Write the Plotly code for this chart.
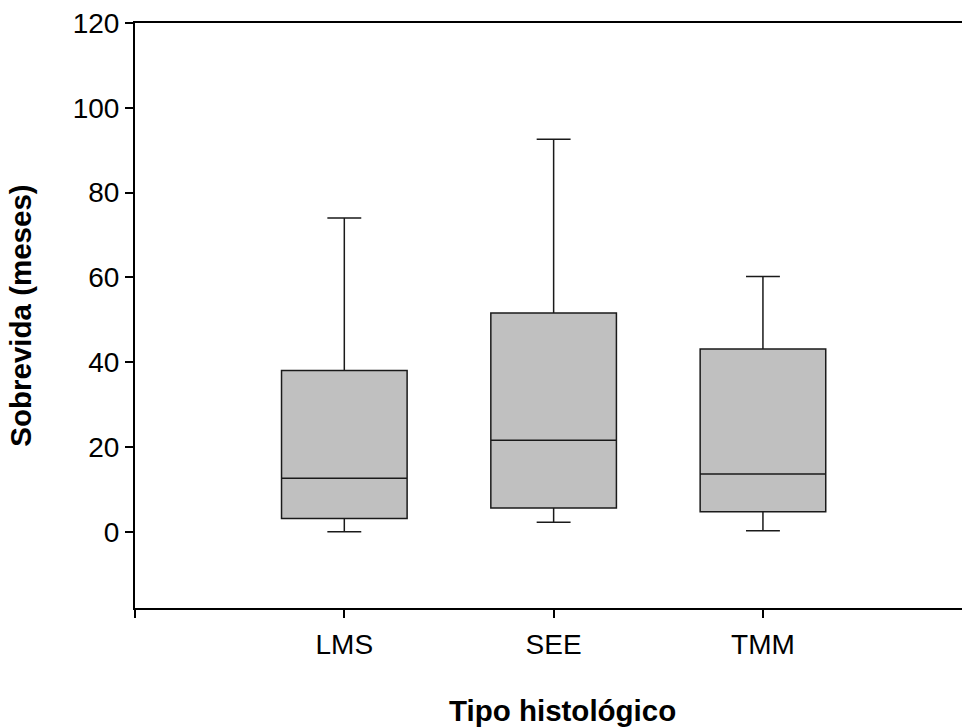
import plotly.graph_objects as go

# Survival (months) by histological type: five-number summaries
categories = ["LMS", "SEE", "TMM"]
positions = [1, 2, 3]
lower_whisker = [0.0, 2.2, 0.2]
q1 = [3.1, 5.6, 4.7]
median = [12.6, 21.6, 13.6]
q3 = [38.0, 51.6, 43.1]
upper_whisker = [74.0, 92.6, 60.2]

y_ticks = [0, 20, 40, 60, 80, 100, 120]

font_family = "Liberation Sans, Arial, sans-serif"

fig = go.Figure()
fig.add_trace(go.Box(
    x=positions,
    lowerfence=lower_whisker,
    q1=q1,
    median=median,
    q3=q3,
    upperfence=upper_whisker,
    width=0.6,
    whiskerwidth=0.27,
    fillcolor="#c0c0c0",
    line=dict(color="#1a1a1a", width=1.5),
    boxpoints=False,
    showlegend=False,
    hoverinfo="skip",
))

# x-axis title placed as a paper-anchored annotation below the tick labels
fig.add_annotation(
    text="<b>Tipo histológico</b>",
    xref="paper", yref="paper",
    x=0.5175, y=0,
    xanchor="center", yanchor="top",
    yshift=-84,
    showarrow=False,
    font=dict(size=29.5, family=font_family, color="black"),
)

fig.update_layout(
    width=962,
    height=727,
    margin=dict(l=135, r=0, t=23, b=119),
    paper_bgcolor="white",
    plot_bgcolor="white",
    font=dict(family=font_family, size=28, color="black"),
    xaxis=dict(
        range=[0, 3.951],
        tickmode="array",
        tickvals=[0] + positions,
        ticktext=[""] + categories,
        ticks="outside",
        ticklen=8,
        tickwidth=1.5,
        tickcolor="black",
        ticklabelstandoff=2,
        showline=True,
        linecolor="black",
        linewidth=2,
        mirror=True,
        showgrid=False,
        zeroline=False,
    ),
    yaxis=dict(
        range=[-18, 120],
        tickmode="array",
        tickvals=y_ticks,
        ticktext=[str(v) for v in y_ticks],
        ticks="outside",
        ticklen=8,
        tickwidth=1.5,
        tickcolor="black",
        showline=True,
        linecolor="black",
        linewidth=2,
        showgrid=False,
        zeroline=False,
        title=dict(text="<b>Sobrevida (meses)</b>",
                   font=dict(size=29.5, family=font_family),
                   standoff=32),
    ),
)

fig.write_html("out.html")
